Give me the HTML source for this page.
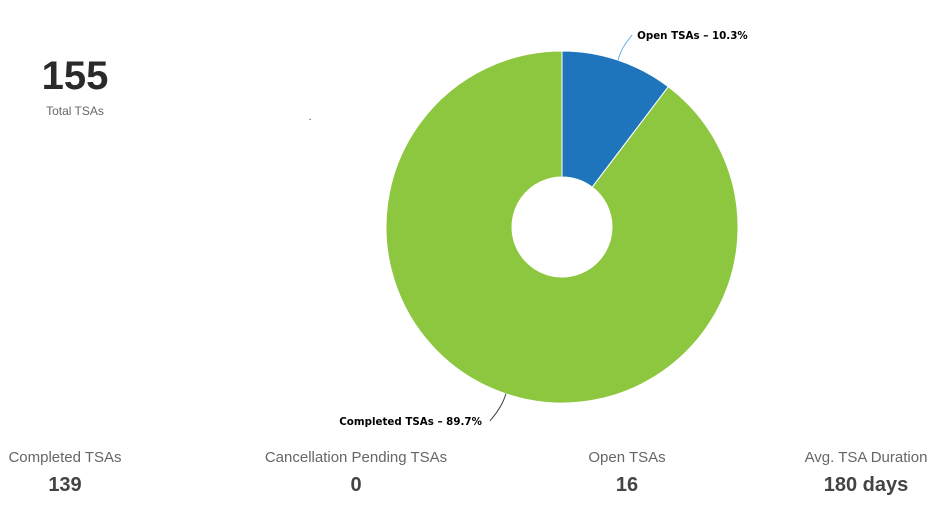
<!DOCTYPE html>
<html><head><meta charset="utf-8"><style>
body{margin:0;width:942px;height:515px;background:#fff;font-family:"Liberation Sans",sans-serif;overflow:hidden;position:relative}
.abs{position:absolute;text-align:center;transform:translateX(-50%);white-space:nowrap}
.lbl{font-size:15px;color:#666}
.val{font-size:20px;font-weight:bold;color:#444}
</style></head><body>
<div class="abs" style="left:75px;top:54px;font-size:40px;font-weight:bold;color:#2a2a2a">155</div>
<div class="abs" style="left:75px;top:104px;font-size:12px;color:#666">Total TSAs</div>
<div class="abs" style="left:310px;top:112px;font-size:10px;color:#333">.</div>
<svg id="chart" width="942" height="515" style="position:absolute;left:0;top:0"></svg>
<div class="abs lbl" style="left:65px;top:449px">Completed TSAs</div>
<div class="abs val" style="left:65px;top:474px">139</div>
<div class="abs lbl" style="left:356px;top:449px">Cancellation Pending TSAs</div>
<div class="abs val" style="left:356px;top:474px">0</div>
<div class="abs lbl" style="left:627px;top:449px">Open TSAs</div>
<div class="abs val" style="left:627px;top:474px">16</div>
<div class="abs lbl" style="left:866px;top:449px">Avg. TSA Duration</div>
<div class="abs val" style="left:866px;top:474px">180 days</div>
<script>
const categories=["Open TSAs","Completed TSAs"];
const values=[16,139];
const colors=["#1f75bc","#8dc63f"];
const NS="http://www.w3.org/2000/svg";
const svg=document.getElementById("chart");
const cx=562,cy=227,R=176,r=50;
const total=values.reduce((a,b)=>a+b,0);
function pt(a,rad){return [cx+rad*Math.sin(a),cy-rad*Math.cos(a)];}
let a0=0;
values.forEach((v,i)=>{
  const a1=a0+v/total*2*Math.PI;
  const large=(a1-a0)>Math.PI?1:0;
  const p1=pt(a0,R),p2=pt(a1,R),p3=pt(a1,r),p4=pt(a0,r);
  const p=document.createElementNS(NS,"path");
  p.setAttribute("d",`M${p1}A${R},${R} 0 ${large} 1 ${p2}L${p3}A${r},${r} 0 ${large} 0 ${p4}Z`);
  p.setAttribute("fill",colors[i]);p.setAttribute("stroke","#fff");p.setAttribute("stroke-width","1");
  
  
  svg.appendChild(p);
  const mid=(a0+a1)/2;
  const e=pt(mid,R);
  const right=Math.sin(mid)>=0;
  const up=Math.cos(mid)>0;
  const lx=right?e[0]+14:e[0]-16, ly=e[1]+(up?-25:27);
  const ln=document.createElementNS(NS,"path");
  ln.setAttribute("d",`M${e[0]},${e[1]}Q${(e[0]+lx)/2+(right?-4:4)},${(e[1]+ly)/2} ${lx},${ly}`);
  ln.setAttribute("fill","none");ln.setAttribute("stroke",i==0?"#6aaee0":"#444");ln.setAttribute("stroke-width","1");
  
  
  svg.appendChild(ln);
  const t=document.createElementNS(NS,"text");
  t.setAttribute("x",right?lx+5:lx-8);t.setAttribute("y",ly+4);
  t.setAttribute("text-anchor",right?"start":"end");
  t.setAttribute("font-size","10.3");t.setAttribute("font-weight","bold");t.setAttribute("font-family","DejaVu Sans, Liberation Sans, sans-serif");
  t.setAttribute("fill","#000");
  t.textContent=categories[i]+" – "+(v/total*100).toFixed(1)+"%";
  
  
  svg.appendChild(t);
  a0=a1;
});
</script>
</body></html>
